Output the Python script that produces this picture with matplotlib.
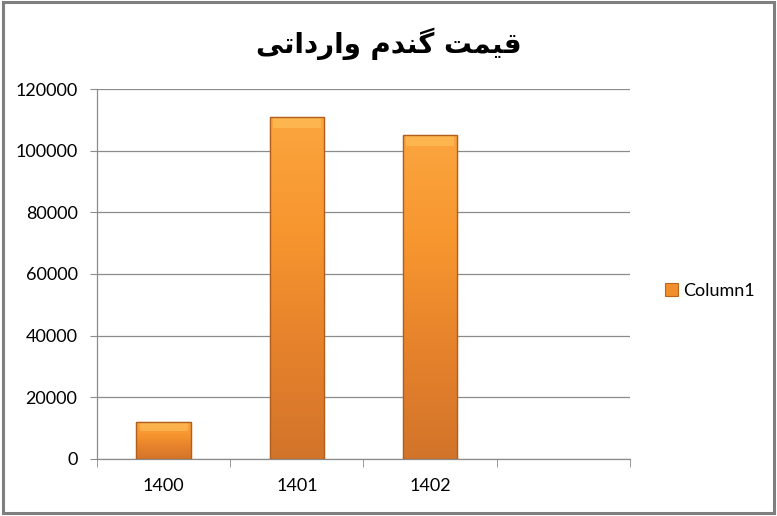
import matplotlib.pyplot as plt
import matplotlib.colors as mcolors
import numpy as np
from matplotlib.patches import Rectangle

# datos
categorias = ["1400", "1401", "1402", ""]
valores = [12000, 111000, 105000, np.nan]
serie = "Column1"
# titulo (formas de presentacion arabes, orden visual)
titulo = "\ufef0\ufe97\ufe8d\ufea9\ufead\ufe8d\ufeed \ufee1\ufeaa\ufee8\ufb94 \ufe96\ufee4\ufef4\ufed7"

plt.rcParams['font.family'] = ['Lato', 'DejaVu Sans']

fig = plt.figure(figsize=(7.77, 5.16), dpi=100)
ax = fig.add_axes([0.1248, 0.1105, 0.686, 0.717])

x = np.arange(len(categorias))
barras = ax.bar(x, valores, width=0.41, color="#F28E2B", edgecolor="#B8651E",
                linewidth=0.8, label=serie, zorder=3)

# degradado dentro de cada barra
cmap = mcolors.LinearSegmentedColormap.from_list(
    "naranja", ["#D2742A", "#E6822C", "#F7962F", "#FBA53F"])
grad = np.linspace(0, 1, 256).reshape(-1, 1)
for b in barras:
    h = b.get_height()
    if not np.isfinite(h) or h == 0:
        continue
    x0, w = b.get_x(), b.get_width()
    im = ax.imshow(grad, extent=[x0, x0 + w, 0, h], origin="lower", aspect="auto",
                   cmap=cmap, zorder=3.5)
    im.set_clip_path(b)
    # bisel claro arriba
    bisel = min(3500, h * 0.25)
    ax.add_patch(Rectangle((x0 + w * 0.06, h - bisel), w * 0.88, bisel,
                           color="#FFC45E", alpha=0.55, lw=0, zorder=3.6))
    ax.add_patch(Rectangle((x0, 0), w, h, fill=False, edgecolor="#B0601C",
                           lw=1.0, zorder=3.8))

ax.set_xlim(-0.5, len(categorias) - 0.5)
ax.set_ylim(0, 120000)
ax.set_yticks(np.arange(0, 120001, 20000))
ax.grid(axis="y", color="#8C8C8C", linewidth=0.9, zorder=0)
ax.set_xticks(x)
ax.set_xticklabels(categorias, fontsize=13)
ax.set_xticks(np.arange(-0.5, len(categorias), 1), minor=True)
ax.tick_params(axis="x", which="major", length=0, pad=14)
ax.tick_params(axis="x", which="minor", length=6, color="#8C8C8C")
ax.tick_params(axis="y", length=5, color="#8C8C8C", labelsize=13, pad=9)
for s in ["top", "right"]:
    ax.spines[s].set_visible(False)
for s in ["left", "bottom"]:
    ax.spines[s].set_color("#8C8C8C")
    ax.spines[s].set_linewidth(0.9)

fig.text(0.5, 0.915, titulo, ha="center", va="center", fontsize=20,
         fontweight="bold", family="DejaVu Sans")

ax.legend(loc="center left", bbox_to_anchor=(1.035, 0.455), frameon=False,
          fontsize=13, handlelength=0.7, handleheight=0.7, handletextpad=0.3)

# marco exterior
fig.add_artist(Rectangle((0.004, 0.006), 0.992, 0.99, transform=fig.transFigure,
                         fill=False, edgecolor="#7F7F7F", lw=2.2))

fig.savefig("out.png", dpi=100)
